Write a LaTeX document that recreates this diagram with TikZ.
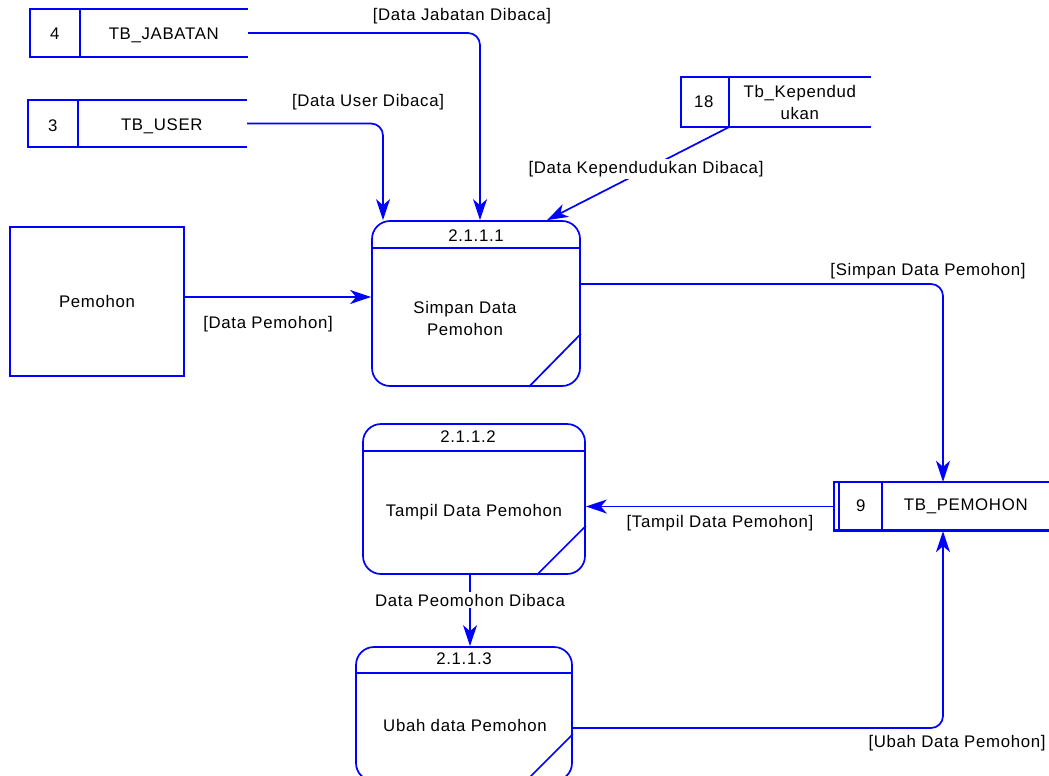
\documentclass[tikz,border=0pt]{standalone}
\usepackage{fontspec}
\setmainfont{Liberation Sans}[LetterSpace=4]
\usetikzlibrary{arrows.meta,calc}
\definecolor{dfd}{RGB}{0,0,255}

\begin{document}
\begin{tikzpicture}[x=1pt,y=-1pt,
  every node/.style={font=\fontsize{16.8}{22}\selectfont, text=black, inner sep=1pt},
  line/.style={draw=dfd, line width=1.7pt},
  flow/.style={line, rounded corners=12pt, -{Stealth[length=21pt,width=14pt,inset=6pt]}},
  proc/.style={line, rounded corners=18pt, inner sep=0pt},
  store/.style={inner sep=0pt},
  lbl/.style={fill=white, inner sep=2pt}]

\useasboundingbox (0,0) rectangle (1049,776);
\clip (0,0) rectangle (1049,776);

% ---------- data stores ----------
\node[store, minimum width=218pt, minimum height=48pt] (jab) at (139,33) {};
\draw[line] (jab.north east) -- (jab.north west) -- (jab.south west) -- (jab.south east);
\draw[line] ($(jab.north west)+(50,0)$) -- ($(jab.south west)+(50,0)$);
\node at ($(jab.west)+(25,1)$) {4};
\node at ($(jab.west)+(134,2)$) {TB\_JABATAN};

\node[store, minimum width=219pt, minimum height=47pt] (usr) at (137.5,123.5) {};
\draw[line] (usr.north east) -- (usr.north west) -- (usr.south west) -- (usr.south east);
\draw[line] ($(usr.north west)+(50,0)$) -- ($(usr.south west)+(50,0)$);
\node at ($(usr.west)+(25,2)$) {3};
\node at ($(usr.west)+(134,3)$) {TB\_USER};

\node[store, minimum width=190pt, minimum height=50pt] (kep) at (776,102) {};
\draw[line] (kep.north east) -- (kep.north west) -- (kep.south west) -- (kep.south east);
\draw[line] ($(kep.north west)+(48,0)$) -- ($(kep.south west)+(48,0)$);
\coordinate (kepout) at ($(kep.south west)+(48,0)$);
\node at ($(kep.west)+(23,0)$) {18};
\node[align=center] at ($(kep.west)+(119,0)$) {Tb\_Kependud\\ukan};

\node[store, minimum width=215pt, minimum height=49pt] (pem) at (941.5,506.5) {};
\draw[line] (pem.north east) -- (pem.north west) -- (pem.south west) -- (pem.south east);
\draw[line] ($(pem.north west)+(5,0)$) -- ($(pem.south west)+(5,0)$);
\draw[line] ($(pem.north west)+(48,0)$) -- ($(pem.south west)+(48,0)$);
\draw[line] ($(pem.south west)+(0,-1.5)$) -- ($(pem.south east)+(0,-1.5)$);
\node at ($(pem.west)+(27,-1)$) {9};
\node at ($(pem.west)+(132,0)$) {TB\_PEMOHON};

% ---------- external entity ----------
\node[line, minimum width=174pt, minimum height=149pt, inner sep=0pt] (ext) at (97,301.5) {};
\node at (ext) {Pemohon};

% ---------- processes ----------
\node[proc, minimum width=208pt, minimum height=165pt] (p1) at (476,303.5) {};
\draw[line] ($(p1.north west)+(0,28)$) -- ($(p1.north east)+(0,28)$);
\draw[line] ($(p1.south east)+(0,-53)$) -- ($(p1.south east)+(-52,0)$);
\node at ($(p1.north)+(0,15)$) {2.1.1.1};
\node[align=center] at ($(p1.center)+(-11,14.5)$) {Simpan Data\\Pemohon};

\node[proc, minimum width=222pt, minimum height=150pt] (p2) at (474,499) {};
\draw[line] ($(p2.north west)+(0,28)$) -- ($(p2.north east)+(0,28)$);
\draw[line] ($(p2.south east)+(0,-49)$) -- ($(p2.south east)+(-49,0)$);
\node at ($(p2.north)+(-6,13)$) {2.1.1.2};
\node at ($(p2.center)+(0,13)$) {Tampil Data Pemohon};

\node[proc, minimum width=216pt, minimum height=134pt] (p3) at (464,714) {};
\draw[line] ($(p3.north west)+(0,27)$) -- ($(p3.north east)+(0,27)$);
\draw[line] ($(p3.north east)+(0,88)$) -- ($(p3.north east)+(-60,148)$);
\node at ($(p3.north)+(0,13)$) {2.1.1.3};
\node at ($(p3.north)+(1,79)$) {Ubah data Pemohon};

% ---------- data flows ----------
\draw[flow] (jab.east) -| ([xshift=4pt]p1.north);
\node at (462,16) {[Data Jabatan Dibaca]};

\draw[flow] (usr.east) -| ([xshift=-93pt]p1.north);
\node at (368,102) {[Data User Dibaca]};

\draw[flow] (kepout) -- ([xshift=71pt]p1.north);
\node[lbl] at (646,169) {[Data Kependudukan Dibaca]};

\draw[flow] ([yshift=4.5pt]ext.east) -- ([yshift=4.5pt]ext.east -| p1.west);
\node at (268,324) {[Data Pemohon]};

\draw[flow] ([yshift=19.5pt]p1.east) -| ([xshift=1.5pt]pem.north);
\node at (928,271) {[Simpan Data Pemohon]};

\draw[flow] (pem.west) -- (pem.west -| p2.east);
\node at (720,523) {[Tampil Data Pemohon]};

\draw[flow] ([xshift=-4pt]p2.south) -- ([xshift=-4pt]p2.south |- p3.north);
\node[lbl] at (470,600) {Data Peomohon Dibaca};

\draw[flow] ([yshift=-14pt]p3.east) -| ([xshift=1.5pt]pem.south);
\node at (957,743) {[Ubah Data Pemohon]};

\end{tikzpicture}
\end{document}
